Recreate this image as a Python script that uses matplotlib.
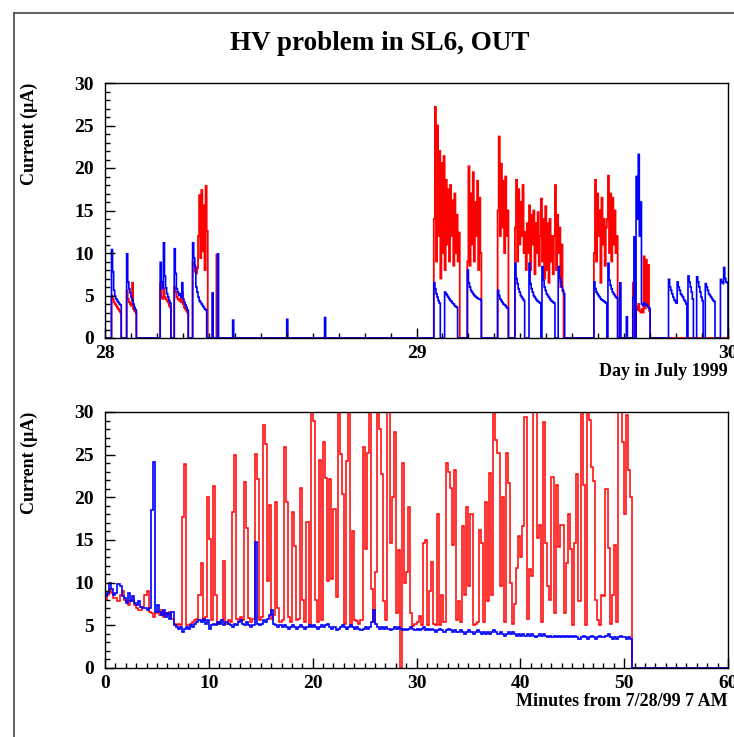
import numpy as np
import matplotlib
matplotlib.use("Agg")
import matplotlib.pyplot as plt
from matplotlib.lines import Line2D
from matplotlib.ticker import MultipleLocator, FormatStrFormatter

plt.rcParams['font.family'] = ['Liberation Serif', 'DejaVu Serif']
plt.rcParams['font.weight'] = 'bold'

# ---- upper panel: day in July 1999, 5 minute bins ----
day_start = 28.0
day_end = 30.0
bin_day = 1.0 / 288

blue_starts = [28.0215, 28.0697, 28.1788, 28.2225, 28.2815, 28.3425, 28.3605,
               28.4100, 28.5843, 28.7040, 29.0562, 29.0892, 29.1644, 29.2607,
               29.3172, 29.3612, 29.4039, 29.4533, 29.5698, 29.6138, 29.6533,
               29.6748, 29.6941, 29.7281, 29.8083, 29.8372, 29.8725, 29.8995,
               29.9284, 29.9753]
blue_blocks = [
    [10.4, 7.8, 5.6, 4.9, 4.6, 4.4, 4.2, 4.0, 3.9],
    [9.9, 6.6, 5.8, 5.3, 4.8, 4.5, 4.0, 3.6, 3.3],
    [8.9, 6.6, 5.8, 11.2, 7.3, 5.9, 5.2, 4.8, 4.4, 4.1],
    [10.5, 7.6, 5.8, 5.4, 5.0, 5.2, 4.8, 6.5, 4.6, 4.2, 3.9, 3.6, 3.3],
    [11.2, 9.4, 8.4, 6.0, 5.4, 4.8, 4.4, 4.2, 4.0, 3.8, 3.6, 3.4, 3.3],
    [5.3],
    [9.9],
    [2.1],
    [2.2],
    [2.4],
    [6.5, 5.8, 5.2, 4.8, 4.4, 4.1],
    [5.4, 5.2, 5.0, 4.8, 4.6, 4.4, 4.3, 4.1, 4.0, 3.8, 3.7, 3.6],
    [8.0, 6.5, 6.0, 5.6, 5.4, 5.2, 5.0, 4.9, 4.8, 4.7, 4.6, 4.6, 4.5],
    [5.6, 5.0, 4.6, 4.4, 4.2, 4.0, 3.9, 3.8, 3.6, 3.5],
    [8.8, 7.0, 6.4, 5.8, 5.4, 5.0, 4.8, 4.6, 4.4],
    [8.8, 6.4, 5.8, 5.4, 5.0, 4.8, 4.6, 4.4, 4.3, 4.2, 4.1],
    [8.4, 6.8, 6.0, 5.6, 5.2, 5.0, 4.8, 4.6, 4.4, 4.3, 4.2, 4.1],
    [8.4, 7.1, 6.6, 6.0, 5.6, 5.2],
    [6.6, 5.8, 5.4, 5.2, 5.0, 4.8, 4.6, 4.5, 4.4, 4.3, 4.2, 4.1],
    [8.8, 6.8, 6.2, 5.8, 5.4, 5.2, 5.0, 4.8, 4.7],
    [6.5],
    [2.5],
    [4.7, 11.9, 0.0, 19.0, 14.0, 21.6, 12.0, 16.0, 4.0, 3.8],
    [4.1, 4.0, 3.9, 3.8, 3.6, 3.5],
    [6.9, 6.0, 5.6, 5.2, 4.8, 4.5, 4.3, 4.1],
    [6.6, 6.0, 5.6, 5.2, 5.0, 4.8, 4.5, 4.3, 4.0],
    [7.3, 6.6, 6.0, 5.4, 4.6],
    [7.2, 6.6, 6.0, 5.4, 4.8, 4.4],
    [6.4, 6.0, 5.6, 5.2, 5.0, 4.8, 4.6, 4.4, 4.3],
    [6.9, 6.6, 6.4, 8.3, 7.0, 6.6, 6.5],
]

red_starts = [28.0215, 28.0697, 28.1788, 28.2225, 28.2815, 28.3563, 29.0562,
              29.1644, 29.2607, 29.3172, 29.5698, 29.6941, 29.7281]
red_blocks = [
    [5.0, 4.6, 4.2, 4.0, 3.8, 3.6, 3.4, 3.2, 3.0],
    [5.6, 4.6, 4.2, 4.0, 3.8, 6.5, 3.4, 3.2, 3.0],
    [6.4, 4.8, 4.6, 5.8, 4.8, 4.6, 4.4, 4.2, 3.8, 3.6],
    [6.0, 5.4, 4.8, 4.6, 4.4, 4.6, 4.2, 5.4, 4.0, 3.6, 3.4, 3.2, 3.0],
    [9.0, 8.6, 7.8, 7.6, 8.2, 12.0, 16.8, 9.4, 17.4, 10.2, 15.6, 8.0, 17.9, 12.6],
    [9.8],
    [14.0, 27.2, 9.0, 25.0, 12.0, 22.0, 7.0, 20.6, 10.0, 21.4, 8.0, 18.6,
     11.0, 17.5, 9.0, 18.0, 12.0, 16.2, 8.5, 17.0, 10.0, 14.5, 9.0, 12.4],
    [9.0, 20.2, 8.5, 17.0, 11.0, 19.5, 9.0, 16.0, 12.0, 18.5, 8.0, 16.5, 10.0],
    [15.0, 23.7, 12.0, 20.5, 13.0, 18.5, 10.0, 19.0, 12.0, 15.0],
    [13.0, 18.6, 9.0, 17.5, 11.0, 16.0, 12.0, 18.0, 10.0, 12.5, 8.0, 13.5,
     10.0, 15.6, 8.0, 14.5, 11.0, 15.0, 7.5, 13.5, 10.0, 14.8, 8.5,
     12.0, 16.4, 9.0, 14.0, 7.0, 15.5, 8.0, 13.5, 6.5, 14.0, 9.0, 12.0, 7.5,
     12.0, 18.0, 8.0, 14.5, 10.0, 13.0, 6.0, 11.0, 5.5],
    [10.0, 18.6, 9.0, 17.0, 12.0, 15.0, 6.5, 16.5, 11.0, 14.0, 8.5, 13.0,
     14.0, 19.1, 10.0, 17.0, 9.0, 16.5, 11.0, 15.0, 10.0, 12.0],
    [6.5, 5.0, 0.0, 3.6, 3.3, 4.0, 3.2, 3.0, 3.4, 3.0],
    [9.6, 3.5, 9.2, 4.0, 8.6, 3.2],
]

# ---- lower panel: minutes from 7/28/99 7 AM, 0.2 minute bins ----
min_bin = 0.2
min_end = 60.0
blue_minutes = [
    8.4, 8.8, 10.0, 9.2, 8.6,  8.8, 9.8, 9.6, 8.4, 8.2,  7.6, 8.8, 7.8, 8.4, 7.6,
    7.4, 7.8, 7.2, 7.0, 7.0,  6.8, 7.0, 18.5, 24.1, 6.6,  7.4, 6.6, 6.2, 6.8, 6.0,
    6.4, 5.8, 6.6, 5.0, 4.8,  4.6, 4.8, 4.2, 4.6, 4.8,  4.6, 5.0, 4.8, 5.2, 5.4,
    5.6, 5.4, 5.8, 5.2, 5.6,  4.6, 5.0, 5.2, 5.0, 5.4,  5.2, 5.6, 5.0, 5.4, 5.2,
    5.0, 4.8, 5.2, 5.0, 5.4,  5.6, 5.2, 5.0, 5.4, 5.0,  4.8, 5.0, 14.8, 5.2, 5.0,
    5.2, 5.6, 5.4, 5.8, 6.2,  6.8, 5.2, 5.0, 4.8, 5.0,  4.8, 5.0, 4.8, 4.6, 4.8,
    5.0, 4.8, 4.6, 4.8, 5.0,  4.8, 4.6, 4.8, 5.0, 4.8,  5.0, 4.8, 4.6, 4.8, 5.0,
    4.8, 5.0, 5.2, 4.8, 4.6,  4.8, 4.4, 4.6, 4.8, 5.0,  4.8, 4.6, 4.8, 5.0, 4.8,
    4.6, 4.8, 4.6, 4.4, 4.6,  4.8, 4.6, 4.8, 5.4, 6.8,  5.2, 4.8, 4.6, 4.8, 4.6,
    4.8, 4.6, 4.4, 4.6, 4.8,  4.6, 4.8, 4.6, 4.4, 4.6,  4.4, 4.6, 4.8, 4.6, 4.4,
    4.6, 4.4, 4.6, 4.8, 4.4,  4.6, 4.4, 4.6, 4.4, 4.2,  4.4, 4.6, 4.4, 4.2, 4.4,
    4.6, 4.4, 4.2, 4.4, 4.2,  4.2, 4.4, 4.2, 4.0, 4.2,  4.4, 4.2, 4.0, 4.2, 4.4,
    4.2, 4.0, 4.2, 4.0, 4.2,  4.0, 4.2, 4.4, 4.2, 4.0,  4.2, 4.0, 3.8, 4.0, 4.2,
    4.0, 4.2, 4.0, 3.8, 4.0,  3.8, 4.0, 3.8, 4.0, 3.8,  4.0, 3.8, 3.6, 3.8, 4.0,
    3.8, 4.0, 3.8, 3.6, 3.8,  3.6, 3.8, 3.6, 3.8, 3.6,  3.8, 3.6, 3.8, 3.6, 3.8,
    3.6, 3.8, 3.6, 3.4, 3.6,  3.8, 3.6, 3.4, 3.6, 3.8,  3.6, 3.4, 3.6, 3.8, 3.6,
    3.6, 3.8, 4.0, 3.6, 3.4,  3.6, 3.4, 3.6, 3.8, 3.6,  3.6, 3.4, 3.6, 3.4,
]
red_minutes = [
    8.0, 8.6, 9.2, 8.8, 8.2,  8.2, 7.8, 8.6, 9.0, 8.0,  7.8, 7.4, 7.8, 8.0, 7.4,
    7.0, 6.8, 6.8, 7.2, 8.6,  9.0, 6.6, 6.4, 6.0, 6.4,  6.6, 6.2, 6.8, 6.0, 6.4,
    6.2, 6.6, 5.8, 5.2, 5.0,  5.2, 5.0, 17.7, 23.9, 5.0,  5.0, 5.2, 5.4, 5.6, 5.8,
    8.6, 12.3, 5.6, 6.0, 20.0,  15.1, 5.6, 21.3, 8.6, 5.2,  5.4, 5.6, 12.5, 5.2, 5.6,
    5.4, 18.3, 25.0, 5.8, 5.4,  6.0, 5.6, 21.8, 16.4, 5.9,  5.4, 5.8, 25.1, 22.2, 5.6,
    6.0, 28.5, 26.2, 10.2, 19.1,  5.8, 6.2, 19.5, 7.0, 5.4,  5.6, 25.9, 19.4, 6.0, 5.4,
    18.3, 14.3, 5.6, 5.8, 21.1,  8.0, 5.4, 17.1, 4.9, 33.0,  29.0, 8.0, 5.4, 24.4, 5.6,
    26.5, 22.3, 10.2, 22.1, 10.4,  18.6, 8.3, 33.0, 25.1, 20.4,  5.2, 24.2, 33.0, 5.0, 16.1,
    5.6, 5.5, 5.2, 5.6, 25.9,  14.0, 25.2, 33.0, 9.2, 5.4,  11.3, 33.0, 28.0, 22.7, 7.8,
    5.6, 33.0, 14.6, 20.0, 27.6,  6.5, 13.8, 0.0, 24.0, 10.0,  11.3, 18.9, 6.5, 4.9, 5.2,
    5.4, 6.1, 5.0, 14.6, 15.0,  5.0, 9.0, 12.4, 5.2, 5.0,  18.1, 5.0, 8.6, 5.4, 24.0,
    23.0, 21.1, 14.4, 23.2, 5.6,  7.9, 5.4, 16.6, 8.6, 18.9,  9.6, 18.1, 5.0, 5.2, 5.4,
    16.2, 14.6, 5.4, 19.5, 7.8,  22.8, 8.6, 33.0, 26.7, 25.2,  9.6, 20.0, 5.4, 25.2, 21.7,
    10.0, 5.2, 7.5, 11.7, 15.5,  13.0, 16.6, 29.4, 5.8, 11.6,  10.8, 33.0, 33.0, 15.2, 16.8,
    5.4, 28.8, 14.6, 9.6, 8.0,  22.4, 6.4, 21.4, 14.2, 16.8,  16.8, 6.4, 12.3, 18.1, 14.0,
    5.0, 14.6, 22.7, 7.8, 33.0,  21.4, 5.0, 33.0, 29.1, 23.6,  21.9, 8.0, 5.6, 5.0, 8.6,
    8.4, 21.0, 14.1, 5.2, 8.6,  14.4, 5.4, 33.0, 30.0, 26.5,  18.1, 29.7, 23.2, 20.0,
]


def fill_days(starts, blocks):
    n = int(round((day_end - day_start) / bin_day))
    vals = np.zeros(n)
    for s, b in zip(starts, blocks):
        i = int(round((s - day_start) / bin_day))
        vals[i:i + len(b)] = b
    return vals


def pad_minutes(vals):
    n = int(round(min_end / min_bin))
    out = np.zeros(n)
    out[:len(vals)] = vals
    return out


def style_axes(ax):
    ax.set_ylim(0, 30)
    ax.yaxis.set_major_locator(MultipleLocator(5))
    ax.yaxis.set_minor_locator(MultipleLocator(1))
    ax.tick_params(which='both', direction='in', top=False, right=False,
                   labelsize=14, width=1.0)
    ax.tick_params(which='major', length=7)
    ax.tick_params(which='minor', length=3.5)
    ax.tick_params(axis='y', pad=8)
    ax.tick_params(axis='x', pad=5)
    for lab in ax.get_xticklabels() + ax.get_yticklabels():
        lab.set_fontweight('bold')
    ax.set_ylabel("Current (\u03bcA)", fontsize=13, fontweight='bold', loc='top')
    ax.yaxis.set_label_coords(-0.108, 1.0)
    for sp in ax.spines.values():
        sp.set_linewidth(1.0)


fig = plt.figure(figsize=(7.34, 7.37), dpi=100)

ax1 = fig.add_axes([105 / 734, 1 - 338 / 737, 623 / 734, 255 / 737])
n_day = int(round((day_end - day_start) / bin_day))
day_edges = day_start + np.arange(n_day + 1) * bin_day
ax1.stairs(fill_days(red_starts, red_blocks), day_edges, color='#ff0000', lw=1.3)
ax1.stairs(fill_days(blue_starts, blue_blocks), day_edges, color='#0000ff', lw=1.2)
ax1.set_xlim(day_start, day_end)
ax1.xaxis.set_major_locator(MultipleLocator(1))
ax1.xaxis.set_minor_locator(MultipleLocator(1 / 12))
ax1.xaxis.set_major_formatter(FormatStrFormatter('%d'))
style_axes(ax1)
ax1.set_xlabel("Day in July 1999", fontsize=13, fontweight='bold', loc='right', labelpad=1)

ax2 = fig.add_axes([105 / 734, 1 - 668 / 737, 623 / 734, 256 / 737])
n_min = int(round(min_end / min_bin))
min_edges = np.arange(n_min + 1) * min_bin
ax2.stairs(pad_minutes(red_minutes), min_edges, color='#ff0000', lw=1.1)
ax2.stairs(pad_minutes(blue_minutes), min_edges, color='#0000ff', lw=1.2)
ax2.set_xlim(0, min_end)
ax2.xaxis.set_major_locator(MultipleLocator(10))
ax2.xaxis.set_minor_locator(MultipleLocator(1))
ax2.xaxis.set_major_formatter(FormatStrFormatter('%d'))
style_axes(ax2)
ax2.set_xlabel("Minutes from 7/28/99 7 AM", fontsize=13, fontweight='bold', loc='right', labelpad=1)

fig.text(380 / 734, 1 - 43 / 737, "HV problem in SL6, OUT", ha='center', va='center',
         fontsize=19.5, fontweight='bold')

# canvas border
fig.add_artist(Line2D([14 / 734, 14 / 734], [0, 1 - 13 / 737], transform=fig.transFigure,
                      color='#444444', lw=1.2))
fig.add_artist(Line2D([14 / 734, 1], [1 - 13 / 737, 1 - 13 / 737], transform=fig.transFigure,
                      color='#444444', lw=1.2))

fig.savefig("out.png", dpi=100)
